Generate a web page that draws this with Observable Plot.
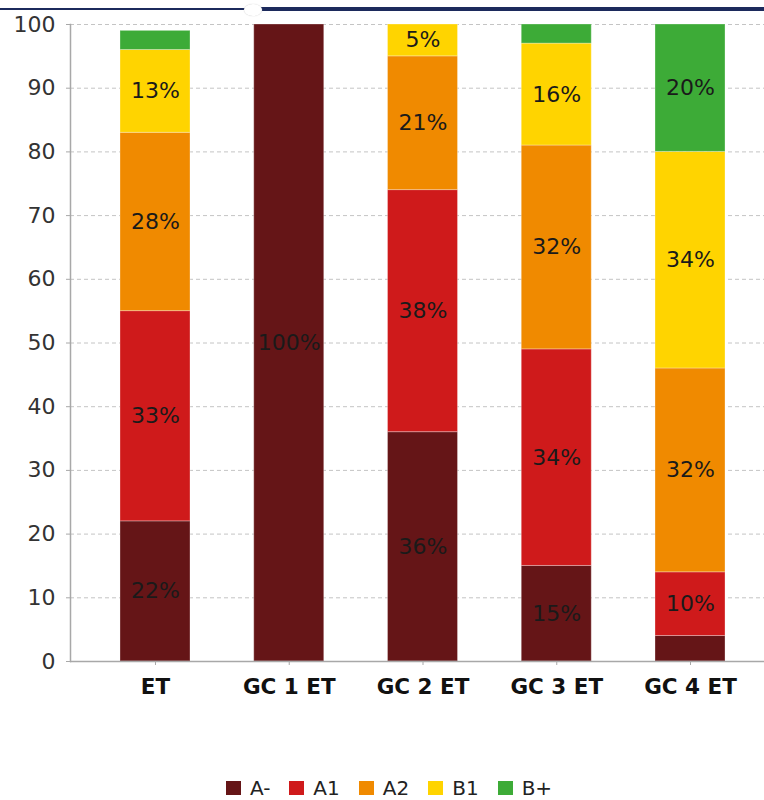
<!DOCTYPE html>
<html><head><meta charset="utf-8">
<script src="https://cdn.jsdelivr.net/npm/d3@7"></script>
<script src="https://cdn.jsdelivr.net/npm/@observablehq/plot@0.6"></script>
<style>
body{margin:0;background:#fff;font-family:"DejaVu Sans",sans-serif;}
#wrap{position:relative;width:764px;height:800px;overflow:hidden;}
#chart svg{display:block;}
.navyL{position:absolute;left:0;top:8px;width:246px;height:2px;background:#1c2a5c;}
.navyR{position:absolute;left:258px;top:7px;width:506px;height:4px;background:#1c2a5c;}
.bump{position:absolute;left:244px;top:4px;width:18px;height:12px;border-radius:50%;background:#fff;box-shadow:0 0 1px #bbb;}
#legend{position:absolute;left:0;top:777px;width:764px;display:flex;justify-content:center;align-items:center;font-size:20px;color:#222;line-height:20px;height:22px;padding-left:14px;box-sizing:border-box;}
#legend .it{display:flex;align-items:center;margin-right:19px;}
#legend .it:last-child{margin-right:0;}
#legend .sw{width:15px;height:14px;margin-right:9px;}
</style></head><body>
<div id="wrap">
<div id="chart"></div>
<div class="navyL"></div><div class="navyR"></div><div class="bump"></div>
<div id="legend"></div>
</div>
<script>
const categories = ["ET", "GC 1 ET", "GC 2 ET", "GC 3 ET", "GC 4 ET"];
const seriesNames = ["A-", "A1", "A2", "B1", "B+"];
const seriesColors = ["#651517", "#cf1a1b", "#f08a00", "#ffd400", "#3dab37"];
const valuesAminus = [22, 100, 36, 15, 4];
const valuesA1 = [33, 0, 38, 34, 10];
const valuesA2 = [28, 0, 21, 32, 32];
const valuesB1 = [13, 0, 5, 16, 34];
const valuesBplus = [3, 0, 0, 3, 20];
const yTicks = [0, 10, 20, 30, 40, 50, 60, 70, 80, 90, 100];

const seriesValues = [valuesAminus, valuesA1, valuesA2, valuesB1, valuesBplus];
const data = [];
categories.forEach((c, i) => {
  seriesNames.forEach((s, j) => {
    const v = seriesValues[j][i];
    if (v > 0) data.push({category: c, series: s, value: v});
  });
});

const plot = Plot.plot({
  width: 764,
  height: 720,
  marginLeft: 70,
  marginRight: 0,
  marginTop: 24,
  marginBottom: 59,
  style: {fontFamily: "DejaVu Sans", fontSize: "22px", background: "transparent", overflow: "visible"},
  x: {domain: categories, range: [70, 775], paddingInner: 0.4766, paddingOuter: 0.3738, round: false, label: null},
  y: {domain: [0, 100], label: null},
  color: {domain: seriesNames, range: seriesColors},
  marks: [
    Plot.ruleY(yTicks.filter(t => t > 0), {stroke: "#c4c4c4", strokeDasharray: "4,3", strokeWidth: 1}),
    Plot.barY(data, {x: "category", y: "value", fill: "series", z: "series", order: seriesNames, stroke: "#ffffff", strokeOpacity: 0.3, strokeWidth: 1}),
    Plot.text(data, Plot.stackY({x: "category", y: "value", z: "series", order: seriesNames, text: d => d.value >= 5 ? d.value + "%" : "", fill: "#1a1a1a", fontSize: 22})),
    Plot.ruleY([0], {stroke: "#a8a8a8", strokeWidth: 1.5}),
    Plot.frame({anchor: "left", stroke: "#a8a8a8", strokeWidth: 1.5}),
    Plot.axisY(yTicks, {tickSize: 4, tickPadding: 11, fontSize: 22, fill: "#333", stroke: "#a8a8a8", label: null}),
    Plot.axisX({tickSize: 4, tickPadding: 13, fontSize: 21.5, fontWeight: "bold", fill: "#111", stroke: "#a8a8a8", label: null})
  ]
});
document.getElementById("chart").appendChild(plot);

const legend = document.getElementById("legend");
seriesNames.forEach((s, i) => {
  const it = document.createElement("div");
  it.className = "it";
  const sw = document.createElement("div");
  sw.className = "sw";
  sw.style.background = seriesColors[i];
  const lb = document.createElement("span");
  lb.textContent = s;
  it.appendChild(sw);
  it.appendChild(lb);
  legend.appendChild(it);
});
</script>
</body></html>
